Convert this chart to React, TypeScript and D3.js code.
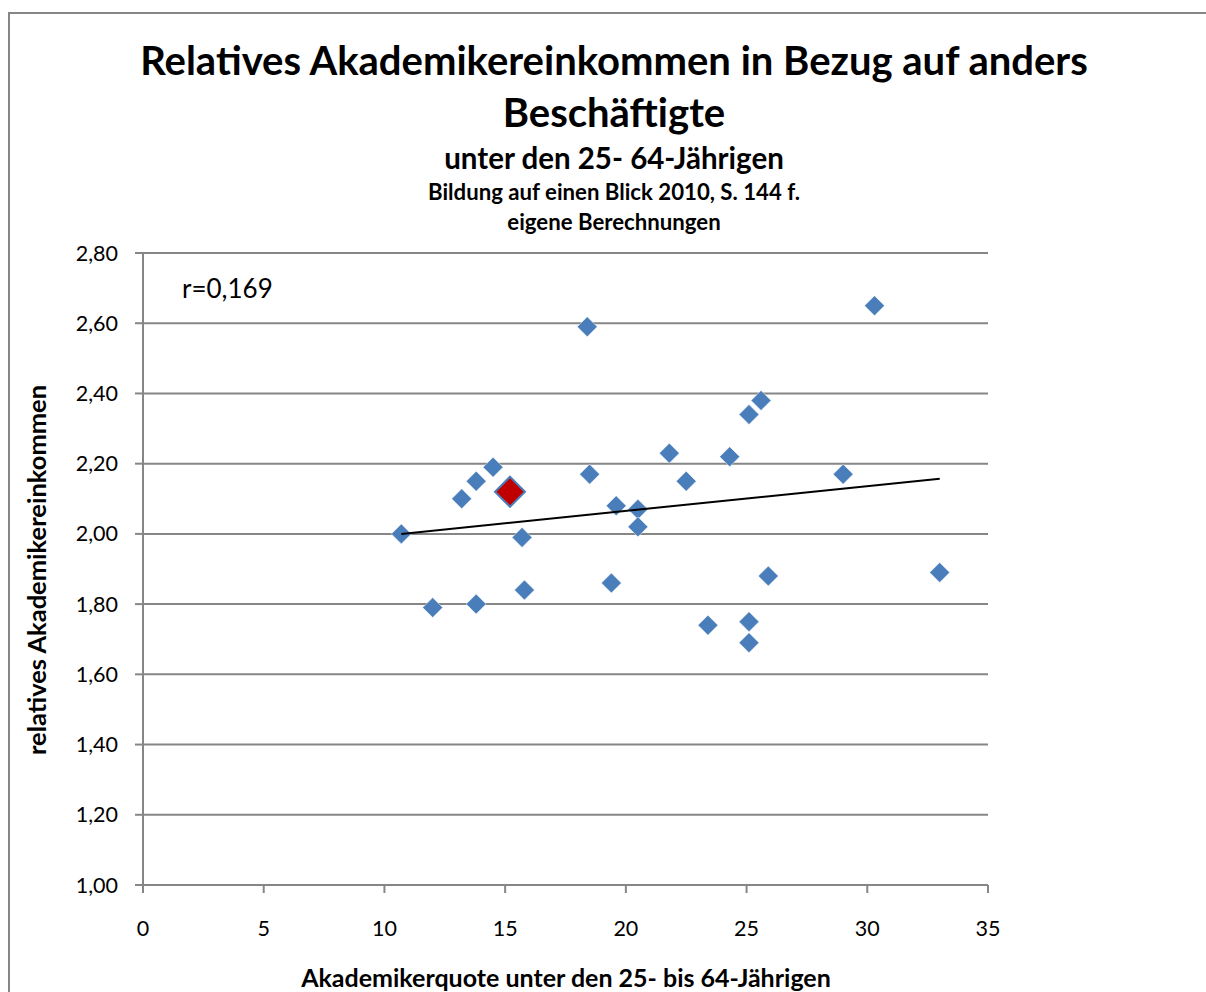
import React from 'react';
import * as d3 from 'd3';

// constants
const width = 1206;
const height = 992;
const margin = { top: 253, right: 218, bottom: 107, left: 143 };
const innerWidth = width - margin.left - margin.right;
const innerHeight = height - margin.top - margin.bottom;
const font = "Lato, Carlito, 'Open Sans', sans-serif";

// data: Akademikerquote (x) and relatives Einkommen (y)
const quote = [10.7, 12.0, 13.2, 13.8, 13.8, 14.5, 15.7, 15.8, 18.4, 18.5, 19.4, 19.6, 20.5, 20.5, 21.8, 22.5, 23.4, 24.3, 25.1, 25.6, 25.1, 25.1, 25.9, 29.0, 30.3, 33.0];
const einkommen = [2.00, 1.79, 2.10, 2.15, 1.80, 2.19, 1.99, 1.84, 2.59, 2.17, 1.86, 2.08, 2.07, 2.02, 2.23, 2.15, 1.74, 2.22, 2.34, 2.38, 1.75, 1.69, 1.88, 2.17, 2.65, 1.89];
// highlighted point (Deutschland)
const hlQuote = [15.2];
const hlEinkommen = [2.12];

const xTicks = [0, 5, 10, 15, 20, 25, 30, 35];
const yTicks = [1.0, 1.2, 1.4, 1.6, 1.8, 2.0, 2.2, 2.4, 2.6, 2.8];

const App = () => {
  const xScale = d3.scaleLinear().domain([0, 35]).range([0, innerWidth]);
  const yScale = d3.scaleLinear().domain([1, 2.8]).range([innerHeight, 0]);

  // linear trend over all points
  const xs = quote.concat(hlQuote);
  const ys = einkommen.concat(hlEinkommen);
  const mx = d3.mean(xs) as number;
  const my = d3.mean(ys) as number;
  const slope = d3.sum(xs, (x, i) => (x - mx) * (ys[i] - my)) / d3.sum(xs, x => (x - mx) * (x - mx));
  const icpt = my - slope * mx;
  const [x0, x1] = d3.extent(xs) as [number, number];

  const diamond = (s: number) => `M0,${-s}L${s},0L0,${s}L${-s},0Z`;
  const fmt = (v: number) => v.toFixed(2).replace('.', ',');
  const grey = '#868686';

  return (
    <svg width={width} height={height} style={{ display: 'block', position: 'absolute', left: 0, top: 0 }} fontFamily={font}>
      <rect x={0} y={0} width={width} height={height} fill="#fff" />
      <rect x={9} y={13} width={width + 10} height={height + 10} fill="none" stroke={grey} strokeWidth={2} />

      {/* titles */}
      <g textAnchor="middle" fontWeight="bold" fill="#000">
        <text x={614} y={75} fontSize={40}>Relatives Akademikereinkommen in Bezug auf anders</text>
        <text x={614} y={127} fontSize={40}>Beschäftigte</text>
        <text x={614} y={169} fontSize={29.5}>unter den 25- 64-Jährigen</text>
        <text x={614} y={200} fontSize={22.2}>Bildung auf einen Blick 2010, S. 144 f.</text>
        <text x={614} y={230} fontSize={22.2}>eigene Berechnungen</text>
      </g>

      <g transform={`translate(${margin.left},${margin.top})`}>
        {/* grid */}
        {yTicks.slice(1).map(t => (
          <line key={t} x1={0} x2={innerWidth} y1={yScale(t)} y2={yScale(t)} stroke={grey} strokeWidth={2} />
        ))}
        {/* axes */}
        <line x1={0} x2={0} y1={0} y2={innerHeight} stroke={grey} strokeWidth={2} />
        <line x1={0} x2={innerWidth} y1={innerHeight} y2={innerHeight} stroke={grey} strokeWidth={2} />
        {yTicks.map(t => (
          <g key={t}>
            <line x1={-8} x2={0} y1={yScale(t)} y2={yScale(t)} stroke={grey} strokeWidth={2} />
            <text x={-25} y={yScale(t)} dy="0.35em" textAnchor="end" fontSize={21.5}>{fmt(t)}</text>
          </g>
        ))}
        {xTicks.map(t => (
          <g key={t}>
            <line x1={xScale(t)} x2={xScale(t)} y1={innerHeight} y2={innerHeight + 8} stroke={grey} strokeWidth={2} />
            <text x={xScale(t)} y={innerHeight + 43} dy="0.35em" textAnchor="middle" fontSize={21.5}>{t}</text>
          </g>
        ))}

        {/* points */}
        {quote.map((q, i) => (
          <path key={i} d={diamond(10)} transform={`translate(${xScale(q)},${yScale(einkommen[i])})`} fill="#4A7EBB" stroke="#fff" strokeWidth={0.5} />
        ))}
        {hlQuote.map((q, i) => (
          <path key={i} d={diamond(15)} transform={`translate(${xScale(q)},${yScale(hlEinkommen[i])})`} fill="#C00000" stroke="#4A7EBB" strokeWidth={2} />
        ))}

        {/* trend */}
        <line x1={xScale(x0)} x2={xScale(x1)} y1={yScale(icpt + slope * x0)} y2={yScale(icpt + slope * x1)} stroke="#000" strokeWidth={2} />

        <text x={39} y={45} fontSize={26}>r=0,169</text>
      </g>

      {/* axis titles */}
      <text x={566} y={987} textAnchor="middle" fontSize={25} fontWeight="bold">Akademikerquote unter den 25- bis 64-Jährigen</text>
      <text transform="translate(46,570) rotate(-90)" textAnchor="middle" fontSize={25.5} fontWeight="bold">relatives Akademikereinkommen</text>
    </svg>
  );
};

export default App;
